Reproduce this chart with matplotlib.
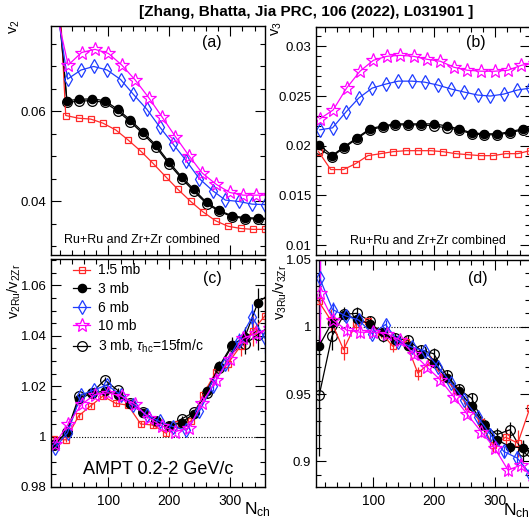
import matplotlib
matplotlib.use('Agg')
import matplotlib.pyplot as plt
from matplotlib.ticker import MultipleLocator, FuncFormatter
from matplotlib.lines import Line2D

plt.rcParams['font.family'] = ['Liberation Sans', 'DejaVu Sans']
plt.rcParams['mathtext.fontset'] = 'custom'
plt.rcParams['mathtext.rm'] = 'Liberation Sans'
plt.rcParams['mathtext.it'] = 'Liberation Sans:italic'
plt.rcParams['mathtext.bf'] = 'Liberation Sans:bold'

# ---------------- data ----------------
labels = ['1.5 mb', '3 mb', '6 mb', '10 mb', r'3 mb, $\tau_{\mathrm{hc}}$=15fm/c']

nch_15 = [10, 30, 51, 71, 91, 112, 132, 153, 173, 194, 214, 235, 255, 276, 296, 317, 337, 357]
nch_3 = [11, 32, 52, 73, 94, 115, 136, 157, 178, 199, 220, 240, 261, 282, 303, 324, 345, 366]
nch_6 = [12, 33, 55, 76, 98, 120, 141, 163, 184, 206, 228, 249, 271, 292, 314, 336, 357, 379]
nch_10 = [12, 34, 56, 78, 100, 122, 144, 166, 188, 210, 232, 254, 277, 299, 321, 343, 365, 387]
nch_3hc = [11, 32, 52, 73, 94, 115, 136, 157, 178, 199, 220, 240, 261, 282, 303, 324, 345, 366]

# (a) v2
v2_15 = [0.112, 0.0590, 0.0584, 0.0582, 0.0573, 0.0558, 0.0536, 0.0511, 0.0484, 0.0454, 0.0426, 0.0399, 0.0376, 0.0356, 0.0344, 0.0339, 0.0337, 0.0337]
v2_3 = [0.0945, 0.0623, 0.0626, 0.0627, 0.0623, 0.0604, 0.0580, 0.0553, 0.0524, 0.0487, 0.0454, 0.0426, 0.0397, 0.0379, 0.0367, 0.0363, 0.0362, 0.0361]
v2_6 = [0.086, 0.0671, 0.0691, 0.0699, 0.0691, 0.0670, 0.0637, 0.0604, 0.0565, 0.0527, 0.0489, 0.0450, 0.0423, 0.0402, 0.0399, 0.0393, 0.0392, 0.0392]
v2_10 = [0.0837, 0.0702, 0.0730, 0.0737, 0.0728, 0.0702, 0.0669, 0.0630, 0.0587, 0.0543, 0.0501, 0.0462, 0.0437, 0.0419, 0.0413, 0.0413, 0.0413, 0.0414]
v2_3hc = [0.094, 0.0619, 0.0622, 0.0623, 0.0619, 0.0600, 0.0576, 0.0549, 0.0520, 0.0483, 0.0450, 0.0422, 0.0394, 0.0377, 0.0365, 0.0361, 0.0360, 0.0359]

# (b) v3
v3_15 = [0.0194, 0.0176, 0.0176, 0.0182, 0.0190, 0.0192, 0.0194, 0.0195, 0.0195, 0.0195, 0.0194, 0.0192, 0.0191, 0.0190, 0.0190, 0.0192, 0.0192, 0.0195]
v3_3 = [0.0201, 0.0190, 0.0199, 0.0208, 0.0217, 0.0220, 0.0222, 0.0222, 0.0222, 0.0222, 0.0220, 0.0217, 0.0213, 0.0212, 0.0212, 0.0214, 0.0217, 0.0219]
v3_6 = [0.0216, 0.0218, 0.0234, 0.0248, 0.0258, 0.0262, 0.0265, 0.0265, 0.0264, 0.0261, 0.0257, 0.0254, 0.0251, 0.0250, 0.0252, 0.0256, 0.0258, 0.0260]
v3_10 = [0.0227, 0.0236, 0.0258, 0.0275, 0.0286, 0.0290, 0.0291, 0.0290, 0.0287, 0.0285, 0.0279, 0.0276, 0.0275, 0.0275, 0.0276, 0.0281, 0.0283, 0.0285]
v3_3hc = [0.0197, 0.0189, 0.0198, 0.0207, 0.0216, 0.0219, 0.0221, 0.0221, 0.0221, 0.0220, 0.0218, 0.0216, 0.0212, 0.0211, 0.0211, 0.0213, 0.0216, 0.0218]

# (c) v2 ratio Ru/Zr
r2_15 = [0.9991, 0.9987, 1.0082, 1.0122, 1.0161, 1.0132, 1.0125, 1.0050, 1.0046, 1.0014, 1.0050, 1.0060, 1.0165, 1.0255, 1.0290, 1.0360, 1.0420, 1.0480]
r2_3 = [0.9970, 1.0017, 1.0148, 1.0174, 1.0180, 1.0167, 1.0128, 1.0095, 1.0063, 1.0043, 1.0056, 1.0090, 1.0180, 1.0280, 1.0365, 1.0395, 1.0530, 1.0570]
r2_6 = [0.9955, 1.0015, 1.0165, 1.0185, 1.0205, 1.0165, 1.0125, 1.0085, 1.0060, 1.0040, 1.0025, 1.0100, 1.0200, 1.0290, 1.0380, 1.0475, 1.0390, 1.0400]
r2_10 = [0.9970, 1.0050, 1.0128, 1.0167, 1.0174, 1.0160, 1.0128, 1.0075, 1.0042, 1.0020, 1.0035, 1.0135, 1.0225, 1.0310, 1.0390, 1.0410, 1.0430, 1.0440]
r2_3hc = [0.9965, 1.0020, 1.0162, 1.0175, 1.0225, 1.0184, 1.0135, 1.0099, 1.0063, 1.0043, 1.0070, 1.0096, 1.0172, 1.0274, 1.0359, 1.0366, 1.0405, 1.0440]
e2_15 = [0.001, 0.001, 0.001, 0.001, 0.001, 0.001, 0.001, 0.001, 0.001, 0.001, 0.001, 0.001, 0.002, 0.002, 0.003, 0.004, 0.006, 0.008]
e2_3 = [0.001, 0.001, 0.001, 0.001, 0.001, 0.001, 0.001, 0.001, 0.001, 0.001, 0.001, 0.001, 0.002, 0.002, 0.003, 0.004, 0.006, 0.008]
e2_6 = [0.001, 0.001, 0.001, 0.001, 0.001, 0.001, 0.001, 0.001, 0.001, 0.001, 0.001, 0.001, 0.002, 0.002, 0.003, 0.005, 0.006, 0.008]
e2_10 = [0.001, 0.001, 0.001, 0.001, 0.001, 0.001, 0.001, 0.001, 0.001, 0.001, 0.001, 0.001, 0.002, 0.002, 0.003, 0.004, 0.007, 0.008]
e2_3hc = [0.001, 0.001, 0.001, 0.001, 0.001, 0.001, 0.001, 0.001, 0.001, 0.001, 0.001, 0.001, 0.002, 0.002, 0.003, 0.004, 0.006, 0.008]

# (d) v3 ratio Ru/Zr
r3_15 = [1.019, 1.005, 0.983, 1.002, 1.004, 0.996, 0.9855, 0.989, 0.9655, 0.974, 0.963, 0.953, 0.941, 0.929, 0.912, 0.918, 0.9136, 0.940]
r3_3 = [0.986, 1.003, 1.0090, 1.006, 1.002, 0.9963, 0.990, 0.986, 0.980, 0.973, 0.962, 0.9526, 0.941, 0.927, 0.916, 0.911, 0.910, 0.905]
r3_6 = [1.036, 1.0128, 1.008, 1.005, 0.995, 1.0017, 0.989, 0.985, 0.9820, 0.9704, 0.958, 0.9457, 0.933, 0.920, 0.9074, 0.9025, 0.891, 0.885]
r3_10 = [1.025, 1.005, 0.9975, 0.996, 0.996, 0.995, 0.990, 0.980, 0.970, 0.9605, 0.948, 0.935, 0.922, 0.910, 0.8935, 0.8975, 0.885, 0.880]
r3_3hc = [0.949, 0.993, 1.0094, 1.010, 1.0044, 0.993, 0.9914, 0.990, 0.9827, 0.980, 0.964, 0.9536, 0.947, 0.927, 0.920, 0.9235, 0.9074, 0.900]
e3_15 = [0.015, 0.008, 0.008, 0.004, 0.004, 0.004, 0.004, 0.004, 0.005, 0.004, 0.004, 0.004, 0.004, 0.005, 0.005, 0.006, 0.010, 0.012]
e3_3 = [0.065, 0.006, 0.004, 0.004, 0.003, 0.003, 0.003, 0.003, 0.003, 0.003, 0.003, 0.003, 0.004, 0.004, 0.004, 0.005, 0.006, 0.008]
e3_6 = [0.030, 0.006, 0.004, 0.004, 0.003, 0.003, 0.003, 0.003, 0.003, 0.003, 0.003, 0.003, 0.004, 0.004, 0.004, 0.005, 0.006, 0.008]
e3_10 = [0.040, 0.006, 0.004, 0.004, 0.003, 0.003, 0.003, 0.003, 0.003, 0.003, 0.003, 0.003, 0.004, 0.004, 0.004, 0.005, 0.006, 0.008]
e3_3hc = [0.045, 0.010, 0.005, 0.005, 0.004, 0.004, 0.004, 0.004, 0.004, 0.004, 0.004, 0.004, 0.004, 0.005, 0.005, 0.006, 0.008, 0.010]

# ---------------- styles ----------------
RED = '#ff2a2a'
BLUE = '#1f3cff'
MAG = '#ff00ff'
styles = [
    dict(color=RED, marker='s', mfc='none', ms=5.0),
    dict(color='black', marker='o', mfc='black', ms=6.0),
    dict(color=BLUE, marker='d', mfc='none', ms=7.5),
    dict(color=MAG, marker='*', mfc='none', ms=10.0),
    dict(color='black', marker='o', mfc='none', ms=7.0),
]
xs = [nch_15, nch_3, nch_6, nch_10, nch_3hc]
order = [4, 0, 1, 2, 3]

W, H = 529.0, 520.0
fig = plt.figure(figsize=(W / 100, H / 100), dpi=100)


def add_ax(x0, y0, x1, y1):
    return fig.add_axes([x0 / W, 1 - y1 / H, (x1 - x0) / W, (y1 - y0) / H])


def ftext(x, y, s, **kw):
    fig.text(x / W, 1 - y / H, s, **kw)


axa = add_ax(50.5, 25.5, 265, 255)
axb = add_ax(315.5, 26.5, 530, 255)
axc = add_ax(50.5, 259, 265, 487)
axd = add_ax(315.5, 259.5, 530, 487)

gfmt = FuncFormatter(lambda v, p: '%g' % round(v, 6))


def style_axis(ax, ylim, ymaj, ymin, xlabels):
    ax.set_xlim(5, 357)
    ax.set_ylim(*ylim)
    ax.xaxis.set_major_locator(MultipleLocator(100))
    ax.xaxis.set_minor_locator(MultipleLocator(20))
    ax.yaxis.set_major_locator(MultipleLocator(ymaj))
    ax.yaxis.set_minor_locator(MultipleLocator(ymin))
    ax.yaxis.set_major_formatter(gfmt)
    ax.tick_params(which='both', direction='in', top=True, right=True, width=0.8,
                   labelsize=10, pad=3)
    ax.tick_params(axis='y', labelsize=9.5)
    ax.tick_params(which='major', length=7)
    ax.tick_params(which='minor', length=3.5)
    ax.tick_params(axis='x', pad=5)
    if not xlabels:
        ax.tick_params(axis='x', labelbottom=False)
    for s in ax.spines.values():
        s.set_linewidth(1.0)


def draw_plain(ax, ys):
    for i in order:
        st = styles[i]
        ax.plot(xs[i], ys[i], color=st['color'], marker=st['marker'], mfc=st['mfc'],
                mec=st['color'], ms=st['ms'], mew=0.9, lw=0.9)


def draw_err(ax, ys, es):
    for i in order:
        st = styles[i]
        ax.errorbar(xs[i], ys[i], yerr=es[i], color=st['color'], marker=st['marker'],
                    mfc=st['mfc'], mec=st['color'], ms=st['ms'], mew=0.9, lw=0.9,
                    elinewidth=0.9, capsize=0)


draw_plain(axa, [v2_15, v2_3, v2_6, v2_10, v2_3hc])
draw_plain(axb, [v3_15, v3_3, v3_6, v3_10, v3_3hc])
draw_err(axc, [r2_15, r2_3, r2_6, r2_10, r2_3hc], [e2_15, e2_3, e2_6, e2_10, e2_3hc])
draw_err(axd, [r3_15, r3_3, r3_6, r3_10, r3_3hc], [e3_15, e3_3, e3_6, e3_10, e3_3hc])

axc.axhline(1.0, color='black', ls=(0, (1, 1.5)), lw=0.8, zorder=0)
axd.axhline(1.0, color='black', ls=(0, (1, 1.5)), lw=0.8, zorder=0)

style_axis(axa, (0.028, 0.079), 0.02, 0.005, False)
style_axis(axb, (0.009, 0.032), 0.005, 0.001, False)
style_axis(axc, (0.98, 1.0705), 0.02, 0.005, True)
style_axis(axd, (0.881, 1.05), 0.05, 0.01, True)

# texts
ftext(306.5, 12, '[Zhang, Bhatta, Jia PRC, 106 (2022), L031901 ]', fontsize=11,
      fontweight='bold', ha='center', va='center')
ftext(212, 42, '(a)', fontsize=11.5, ha='center', va='center')
ftext(476, 42, '(b)', fontsize=11.5, ha='center', va='center')
ftext(212, 279, '(c)', fontsize=11.5, ha='center', va='center')
ftext(478, 279, '(d)', fontsize=11.5, ha='center', va='center')
ftext(142, 240, 'Ru+Ru and Zr+Zr combined', fontsize=9, ha='center', va='center')
ftext(428, 241, 'Ru+Ru and Zr+Zr combined', fontsize=9, ha='center', va='center')
ftext(158, 470, 'AMPT 0.2-2 GeV/c', fontsize=13, ha='center', va='center')

ftext(15, 27, r'$\mathrm{v_{2}}$', fontsize=10.5, rotation=90, ha='center', va='center')
ftext(277, 29, r'$\mathrm{v_{3}}$', fontsize=10.5, rotation=90, ha='center', va='center')
ftext(14, 291, r'$\mathrm{v_{2Ru}/v_{2Zr}}$', fontsize=10.5, rotation=90, ha='center', va='center')
ftext(280, 292, r'$\mathrm{v_{3Ru}/v_{3Zr}}$', fontsize=10.5, rotation=90, ha='center', va='center')
ftext(257, 510, r'$\mathrm{N_{ch}}$', fontsize=12.5, ha='center', va='center')
ftext(516, 511, r'$\mathrm{N_{ch}}$', fontsize=12.5, ha='center', va='center')

# legend
handles = []
for i in range(5):
    st = styles[i]
    handles.append(Line2D([], [], color=st['color'], marker=st['marker'], mfc=st['mfc'],
                          mec=st['color'], ms=st['ms'], mew=0.9, lw=0.9))
axc.legend(handles, labels, loc='upper left', bbox_to_anchor=(73 / W, 1 - 263.5 / H),
           bbox_transform=fig.transFigure, frameon=False, fontsize=10,
           handlelength=1.25, handletextpad=0.55, labelspacing=0.33,
           borderpad=0, borderaxespad=0, numpoints=1)

fig.savefig('out.png', dpi=100)
